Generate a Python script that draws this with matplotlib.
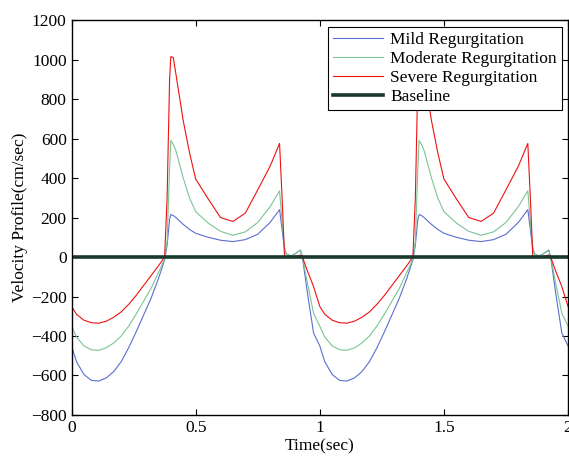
import numpy as np
import matplotlib
matplotlib.use("Agg")
import matplotlib.pyplot as plt

# one heart cycle (sec); the trace shows two identical cycles
t_cycle = [0.00, 0.02, 0.05, 0.08, 0.11, 0.14, 0.17, 0.20, 0.23, 0.26, 0.29, 0.32,
           0.35, 0.375, 0.385, 0.395, 0.40, 0.41, 0.42, 0.45, 0.475, 0.50, 0.55, 0.60,
           0.65, 0.70, 0.75, 0.80, 0.838, 0.85, 0.858, 0.865, 0.885, 0.905, 0.922,
           0.93, 0.95, 0.975]

mild = [-450, -530, -595, -625, -628, -612, -580, -530, -460, -380, -295, -210,
        -110, -15, 60, 190, 215, 210, 200, 165, 140, 120, 100, 85,
        78, 88, 115, 175, 240, 120, 40, 15, 5, 20, 35,
        0, -180, -385]

moderate = [-350, -405, -450, -470, -472, -460, -435, -400, -350, -290, -225, -160,
            -80, -10, 80, 450, 590, 570, 540, 400, 300, 230, 172, 130,
            110, 127, 175, 255, 335, 150, 50, 15, 5, 20, 35,
            0, -130, -285]

severe = [-250, -290, -320, -333, -335, -325, -305, -278, -240, -195, -145, -95,
          -45, 0, 300, 900, 1015, 1010, 930, 690, 530, 395, 295, 200,
          180, 222, 340, 460, 575, 250, 0, 0, 0, 5, 10,
          0, -70, -150]

n_cycles = 2
t = np.concatenate([np.array(t_cycle) + k for k in range(n_cycles)] + [[2.0]])
def rep(v):
    return np.concatenate([v] * n_cycles + [[v[0]]])

plt.rcParams['font.family'] = ['Liberation Serif', 'DejaVu Serif']
plt.rcParams['font.size'] = 12.5

fig = plt.figure(figsize=(5.69, 4.58), dpi=100)
ax = fig.add_axes([0.1257, 0.0939, 0.8726, 0.8624])

ax.plot(t, rep(mild), color='#5a6fcf', lw=0.8, label='Mild Regurgitation')
ax.plot(t, rep(moderate), color='#7cc496', lw=0.8, label='Moderate Regurgitation')
ax.plot(t, rep(severe), color='#ee1111', lw=0.8, label='Severe Regurgitation')
ax.plot([0, 2], [0, 0], color='#17382a', lw=2.6, label='Baseline')

ax.set_xlim(0, 2)
ax.set_ylim(-800, 1200)
ax.set_xticks([0, 0.5, 1, 1.5, 2])
ax.set_xticklabels(['0', '0.5', '1', '1.5', '2'])
ax.set_yticks(np.arange(-800, 1201, 200))
ax.tick_params(direction='in', top=True, right=True, length=4, width=0.8)
for s in ax.spines.values():
    s.set_linewidth(1.0)

ax.set_xlabel('Time(sec)', labelpad=2)
ax.set_ylabel('Velocity Profile(cm/sec)', labelpad=2)

leg = ax.legend(loc='upper right', bbox_to_anchor=(0.988, 0.982), borderaxespad=0,
                fancybox=False, edgecolor='black', framealpha=1, fontsize=12.5,
                handlelength=2.9, handletextpad=0.4, labelspacing=0.15,
                borderpad=0.3)
leg.get_frame().set_linewidth(0.8)

fig.savefig('out.png', dpi=100)
